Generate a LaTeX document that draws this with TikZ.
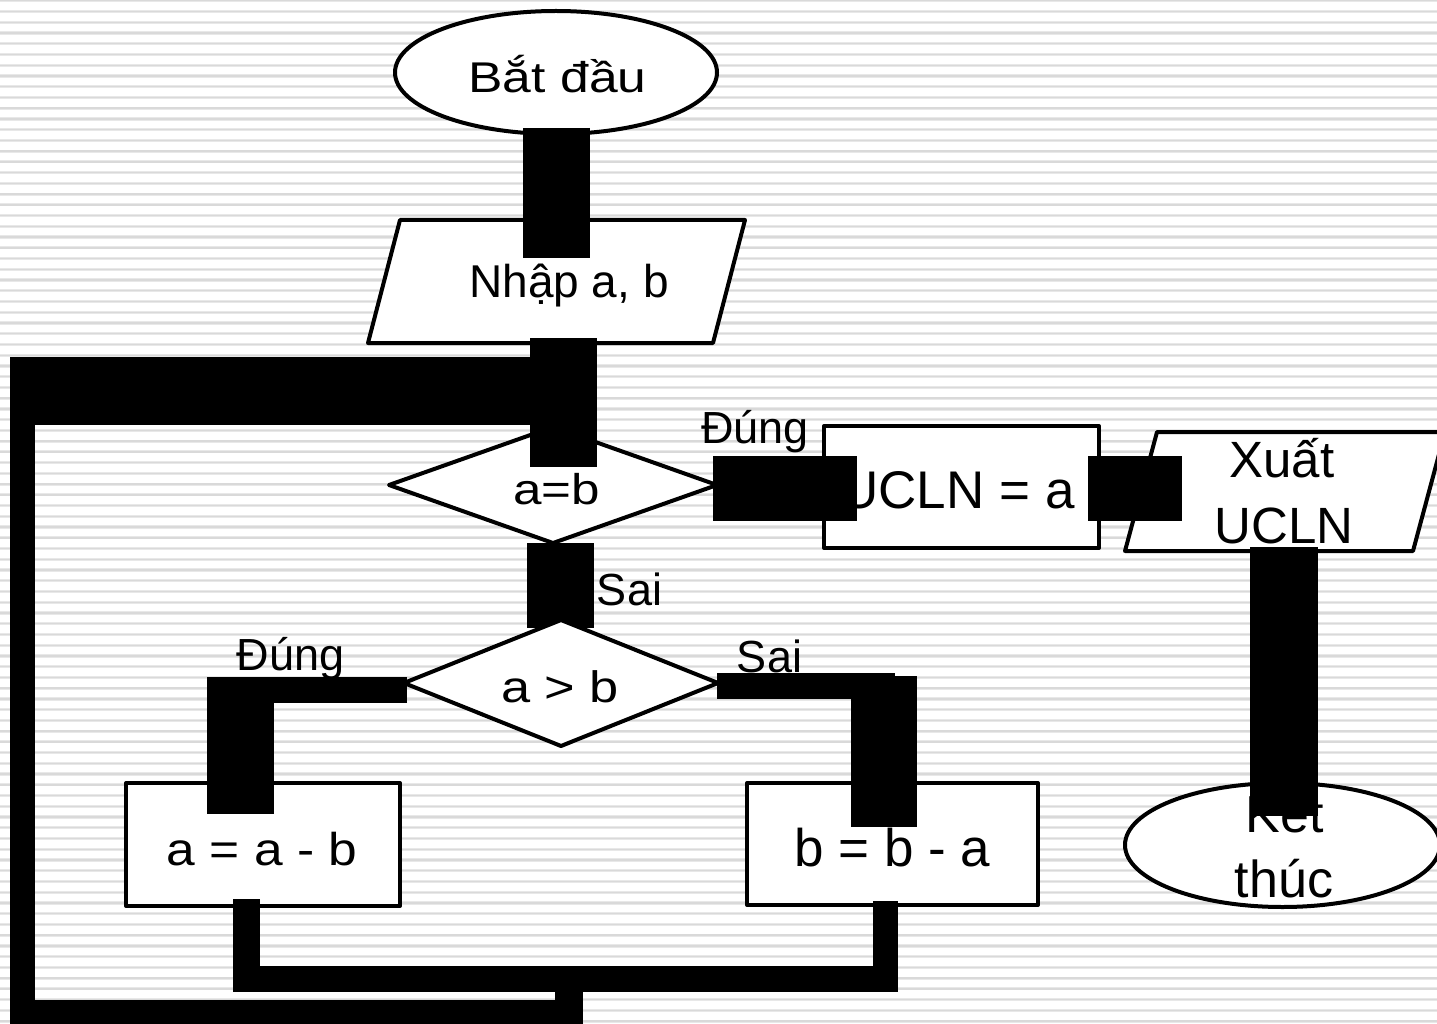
\documentclass[tikz,border=0pt]{standalone}
\usepackage{fontspec}
\setmainfont{Liberation Sans}
\usetikzlibrary{shapes.geometric,calc}
\pgfdeclarelayer{back}
\pgfdeclarelayer{under}
\pgfsetlayers{back,under,main}

\begin{document}
\begin{tikzpicture}[x=1pt,y=-1pt,
  shapeline/.style={draw=black,line width=4pt,fill=white,inner sep=0pt,outer sep=0pt,line join=round},
  shapebox/.style={inner sep=0pt,outer sep=0pt,minimum width=#1},
  flowbar/.style={draw=black,line width=#1,line cap=butt},
  txt/.style={anchor=base,inner sep=0pt,outer sep=0pt,font={\fontsize{#1}{#1}\selectfont}},
  stripeband/.style={draw=black!9,line width=3.2pt},
  stripecore/.style={draw=black!15,line width=1.4pt},
]
\useasboundingbox (0,0) rectangle (1437,1024);
\clip (0,0) rectangle (1437,1024);

% ruled background
\begin{pgfonlayer}{back}
\fill[white] (0,0) rectangle (1437,1024);
\foreach \i in {0,...,95} {
  \draw[stripeband] (0,{0.8+10.74*\i}) -- (1437,{0.8+10.74*\i});
  \draw[stripecore] (0,{0.8+10.74*\i}) -- (1437,{0.8+10.74*\i});
}
\end{pgfonlayer}

% flowchart shapes
\node[shapeline,ellipse,minimum width=322pt,minimum height=123pt] (start) at (556,72.5) {};
\node[shapebox=345pt,minimum height=123pt] (input) at (556.5,281.5) {};
\filldraw[shapeline] ($(input.north west)+(16,0)$) -- ($(input.north east)+(16,0)$)
  -- ($(input.south east)+(-16,0)$) -- ($(input.south west)+(-16,0)$) -- cycle;
\node[shapeline,diamond,minimum width=328pt,minimum height=116pt] (test) at (553,485) {};
\node[shapeline,rectangle,minimum width=275pt,minimum height=122pt] (ucln) at (961.5,487) {};
\node[shapebox=288pt,minimum height=119pt] (out) at (1285,491.5) {};
\filldraw[shapeline] ($(out.north west)+(16,0)$) -- ($(out.north east)+(16,0)$)
  -- ($(out.south east)+(-16,0)$) -- ($(out.south west)+(-16,0)$) -- cycle;
\node[shapeline,ellipse,minimum width=315pt,minimum height=124pt] (end) at (1282.5,845) {};
\node[shapeline,rectangle,minimum width=274pt,minimum height=123pt] (suba) at (263,844.5) {};
\node[shapeline,rectangle,minimum width=291pt,minimum height=122pt] (subb) at (892.5,844) {};
\node[shapeline,diamond,minimum width=314pt,minimum height=126pt] (gt) at (561,683) {};

% texts inside the shapes
\node[txt=43] (start-t) at (557.5,93) {\scalebox{1.2}[1]{Bắt đầu}};
\node[txt=46] (input-t) at (569,298) {Nhập a, b};
\node[txt=43] (test-t) at (556.5,504) {\scalebox{1.19}[1]{a=b}};
\node[txt=53] (ucln-t) at (957.5,508) {UCLN = a};
\node[txt=51] (out-t1) at (1282,477) {Xuất};
\node[txt=51] (out-t2) at (1284,543) {UCLN};
\node[txt=52] (end-t1) at (1285,832) {Kết};
\node[txt=52] (end-t2) at (1284,897) {thúc};
\node[txt=46] (suba-t) at (262,865) {\scalebox{1.12}[1]{a = a - b}};
\node[txt=53] (subb-t) at (892.5,866) {b = b - a};
\node[txt=44] (gt-t) at (560,702) {\scalebox{1.19}[1]{a > b}};

% a=b -> a>b, passing under the second decision
\begin{pgfonlayer}{under}
\draw[flowbar=67pt] ($(test.south)+(7.5,0)$) -- ($(gt.north)+(-0.5,8)$);
\end{pgfonlayer}

% branch labels
\node[txt=45] (l-yes1) at (755,443) {Đúng};
\node[txt=45] (l-no1) at (629.5,605) {Sai};
\node[txt=45] (l-yes2) at (290.5,670) {Đúng};
\node[txt=45] (l-no2) at (769.5,672) {Sai};

% connectors
\draw[flowbar=67pt] ($(start.south)+(0.5,-6)$) -- ($(input.north)+(0,38)$);
\draw[flowbar=67pt] ($(input.south)+(7,-5)$) -- ($(test.north)+(10.5,40)$);
\draw[flowbar=65pt] ($(test.east)+(-4,3.5)$) -- ($(ucln.west)+(33,1.5)$);
\draw[flowbar=65pt] ($(ucln.east)+(-11,1.5)$) -- ($(out.west)+(41,-3)$);
\draw[flowbar=68pt] ($(out.south)+(-1,-4)$) -- ($(end.north)+(1.5,33)$);

% a>b true branch
\coordinate (yes-corner) at (207,690);
\draw[flowbar=26pt] ($(gt.west)+(3,7)$) -- (yes-corner);
\draw[flowbar=67pt] (240.5,677) -- ($(suba.north)+(-22.5,31)$);
% a>b false branch
\coordinate (no-corner) at (895,686);
\draw[flowbar=26pt] ($(gt.east)+(-1,3)$) -- (no-corner);
\draw[flowbar=66pt] (884,676) -- ($(subb.north)+(-8.5,44)$);

% merge below the two assignments
\draw[flowbar=27pt] ($(suba.south)+(-16.5,-7)$) -- ++(0,93);
\draw[flowbar=25pt] ($(subb.south)+(-7,-4)$) -- ++(0,91);
\draw[flowbar=26pt] ($(suba.south)+(-30,73)$) -- ($(subb.south)+(5.5,74)$);
\coordinate (join) at (569,979);

% loop back to the first decision
\coordinate (loop-br) at (583,1012);
\coordinate (loop-bl) at (10,1012);
\coordinate (loop-tl) at (10,391);
\draw[flowbar=28pt] (join) -- ++(0,21);
\draw[flowbar=24pt] (loop-br) -- (loop-bl);
\draw[flowbar=25pt] (22.5,1024) -- (22.5,357);
\draw[flowbar=68pt] (loop-tl) -- ($(test.north)+(-23,-36)$);
\end{tikzpicture}
\end{document}
